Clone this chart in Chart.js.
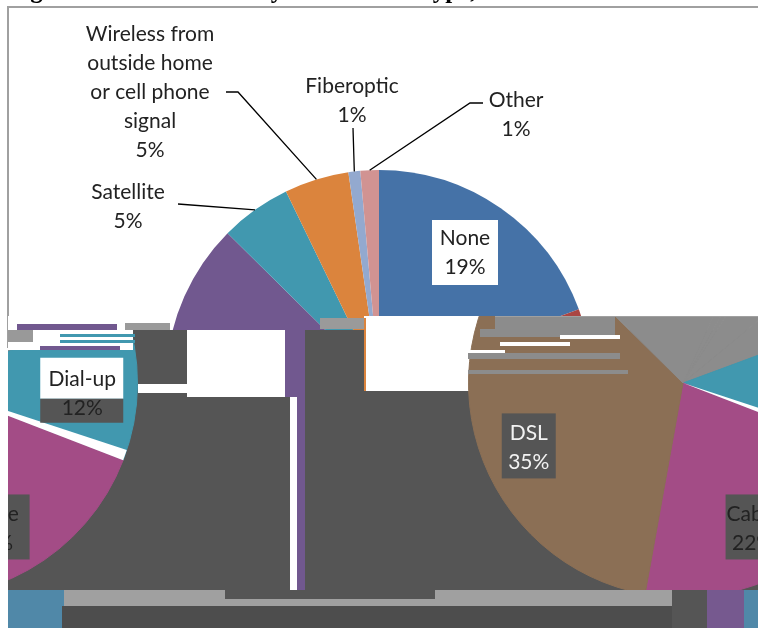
<!DOCTYPE html>
<html>
<head>
<meta charset="utf-8">
<script src="https://cdn.jsdelivr.net/npm/chart.js@4"></script>
<style>
  html, body { margin: 0; padding: 0; background: #fff; overflow: hidden; }
  #stage { position: relative; width: 758px; height: 628px; overflow: hidden; }
  #stage canvas { position: absolute; }
  #lower { position: absolute; left: 8px; top: 316px; width: 750px; height: 274px; overflow: hidden; }
  .patch { position: absolute; }
</style>
</head>
<body>
<div id="stage">
  <canvas id="topPie" width="758" height="628" style="left:0;top:0"></canvas>
  <div id="under"></div>
  <div id="lower">
    <canvas id="lowerPie" width="430" height="430"></canvas>
    <canvas id="wrapPie" width="430" height="430"></canvas>
  </div>
  <div id="over"></div>
</div>
<script>
const titleText = "Figure 4. Home Access by Connection Type, 2009";
const categories = ["None", "DSL", "Cable", "Dial-up", "Satellite",
  "Wireless from\noutside home\nor cell phone\nsignal", "Fiberoptic", "Other"];
const shares = [19.4, 34.6, 22, 11.5, 5.4, 4.9, 0.9, 1.4];
const topColors = ["#4572A7", "#AA4643", "#89A54E", "#71588F", "#4198AF", "#DB843D", "#93A9CF", "#D19392"];
const lowerColors = ["#8c8c8c", "#8b6f55", "#a34c86", "#4198AF", "#8c8c8c", "#8c8c8c", "#8c8c8c", "#8c8c8c"];

const FONT = '21px Lato, "Open Sans", sans-serif';
const LINE = 29;

// where the labels of the top pie sit, by category index
const topSpots = {
  0: { x: 465, y: 238, box: [432, 220, 66, 65] },
  4: { x: 128, y: 192, from: [[178, 204]] },
  5: { x: 150, y: 34, from: [[226, 92], [238, 92]] },
  6: { x: 352, y: 86, from: [[353, 128]] },
  7: { x: 516, y: 100, from: [[483, 103], [470, 103]] },
};
// labels of the broken lower part, offset from the middle of their slice
const lowerSpots = {
  1: { dx: -52, dy: 18, box: [-27, -20, 54, 65], fill: "#555", ink: "#f2f2f2" },
  2: { dx: 17, dy: 38, box: [-27, -20, 64, 65], fill: "#555", ink: "#222" },
  3: { dx: 52, dy: -5, box: [-42, -21, 83, 41], fill: "#fff", ink: "#222", band: [-42, 20, 83, 24] },
};

const underPatches = [
  [8, 330, 750, 260, "#555"],
  [187, 330, 103, 67, "#fff"],
  [138, 384, 49, 9, "#fff"],
  [285, 330, 20, 67, "#71588F"],
  [290, 397, 7, 193, "#fff"],
  [297, 397, 8, 193, "#71588F"],
  [320, 318, 45, 11, "#9a9a9a"],
  [364, 316, 116, 75, "#fff"],
  [364, 318, 2, 73, "#DB843D"],
  [8, 590, 56, 38, "#5088a8"],
  [64, 590, 608, 16, "#a0a0a0"],
  [225, 590, 210, 9, "#555"],
  [62, 606, 612, 22, "#4d4d4d"],
  [672, 590, 35, 38, "#555"],
  [707, 590, 37, 38, "#76598f"],
  [744, 590, 14, 38, "#5088a8"],
];
const overPatches = [
  [8, 316, 160, 14, "#fff"],
  [17, 324, 100, 6, "#71588F"],
  [125, 323, 45, 7, "#9a9a9a"],
  [8, 330, 125, 20, "#fff"],
  [8, 330, 25, 12, "#999"],
  [60, 334, 75, 3, "#4198AF"],
  [60, 340, 75, 3, "#4198AF"],
  [40, 346, 80, 4, "#71588F"],
  [495, 316, 263, 1, "#a0a0a0"],
  [495, 317, 120, 12, "#8c8c8c"],
  [480, 329, 135, 8, "#8c8c8c"],
  [560, 335, 60, 4, "#fff"],
  [500, 342, 70, 4, "#fff"],
  [470, 350, 35, 3, "#fff"],
  [468, 353, 152, 6, "#8c8c8c"],
  [468, 370, 160, 4, "#8c8c8c"],
];

function addPatches(id, list) {
  const host = document.getElementById(id);
  list.forEach(([x, y, w, h, c]) => {
    const d = document.createElement("div");
    d.className = "patch";
    d.style.cssText = `left:${x}px;top:${y}px;width:${w}px;height:${h}px;background:${c}`;
    host.appendChild(d);
  });
}

function labelLines(i) {
  return categories[i].split("\n").concat(Math.round(shares[i]) + "%");
}

function writeLines(ctx, i, x, y, ink) {
  ctx.font = FONT;
  ctx.fillStyle = ink;
  ctx.textAlign = "center";
  ctx.textBaseline = "middle";
  labelLines(i).forEach((t, n) => ctx.fillText(t, x, y + n * LINE));
}

const topLabels = {
  id: "topLabels",
  afterDraw(chart) {
    const ctx = chart.ctx;
    ctx.save();
    ctx.strokeStyle = "#a0a0a0";
    ctx.lineWidth = 2;
    ctx.strokeRect(8, 7, 760, 340);
    ctx.font = 'bold 25px "Liberation Serif", serif';
    ctx.fillStyle = "#000";
    ctx.textAlign = "left";
    ctx.textBaseline = "alphabetic";
    ctx.fillText(titleText, 8, -2);
    const arcs = chart.getDatasetMeta(0).data;
    Object.entries(topSpots).forEach(([i, s]) => {
      if (s.box) {
        ctx.fillStyle = "#fff";
        ctx.fillRect(...s.box);
      }
      if (s.from) {
        const a = arcs[i];
        const mid = (a.startAngle + a.endAngle) / 2;
        ctx.strokeStyle = "#000";
        ctx.lineWidth = 1.3;
        ctx.beginPath();
        ctx.moveTo(...s.from[0]);
        s.from.slice(1).forEach(p => ctx.lineTo(...p));
        ctx.lineTo(a.x + Math.cos(mid) * a.outerRadius, a.y + Math.sin(mid) * a.outerRadius);
        ctx.stroke();
      }
      writeLines(ctx, i, s.x, s.y, "#222");
    });
    ctx.restore();
  },
};

const lowerLabels = {
  id: "lowerLabels",
  afterDraw(chart) {
    const ctx = chart.ctx;
    const arcs = chart.getDatasetMeta(0).data;
    const last = categories.length - 1;
    ctx.save();
    // white sliver between Dial-up and Cable
    const cable = arcs[last - 2];
    ctx.fillStyle = "#fff";
    ctx.beginPath();
    ctx.moveTo(cable.x, cable.y);
    ctx.arc(cable.x, cable.y, cable.outerRadius, cable.startAngle - 0.05, cable.startAngle);
    ctx.closePath();
    ctx.fill();
    Object.entries(lowerSpots).forEach(([i, s]) => {
      // lower pie runs the other way round, so its data is reversed
      const a = arcs[last - i];
      const p = a.tooltipPosition();
      const x = p.x + s.dx;
      const y = p.y + s.dy;
      ctx.fillStyle = s.fill;
      ctx.fillRect(x + s.box[0], y + s.box[1], s.box[2], s.box[3]);
      if (s.band) {
        ctx.fillStyle = "#555";
        ctx.fillRect(x + s.band[0], y + s.band[1], s.band[2], s.band[3]);
      }
      writeLines(ctx, i, x, y, s.ink);
    });
    ctx.restore();
  },
};

function pie(id, values, colors, rotation, padding, plugin, edge) {
  return new Chart(document.getElementById(id), {
    type: "pie",
    data: {
      labels: categories,
      datasets: [{ data: values, backgroundColor: colors, borderColor: colors, borderWidth: edge }],
    },
    options: {
      responsive: false,
      animation: false,
      devicePixelRatio: 1,
      rotation,
      layout: { padding },
      plugins: { legend: { display: false }, tooltip: { enabled: false }, title: { display: false } },
    },
    plugins: [plugin],
  });
}

addPatches("under", underPatches);
addPatches("over", overPatches);

const lowerBox = document.getElementById("lowerPie");
const wrapBox = document.getElementById("wrapPie");
lowerBox.style.left = (683 - 8 - 215) + "px";
lowerBox.style.top = (383 - 316 - 215) + "px";
wrapBox.style.left = (683 - 8 - 215 - 760) + "px";
wrapBox.style.top = lowerBox.style.top;

pie("topPie", shares, topColors, 0, { left: 166, right: 166, top: 170, bottom: 32 }, topLabels, 0);
const revShares = shares.slice().reverse();
const revColors = lowerColors.slice().reverse();
pie("lowerPie", revShares, revColors, 24.4, 0, lowerLabels, 1);
pie("wrapPie", revShares, revColors, 24.4, 0, lowerLabels, 1);
</script>
</body>
</html>
